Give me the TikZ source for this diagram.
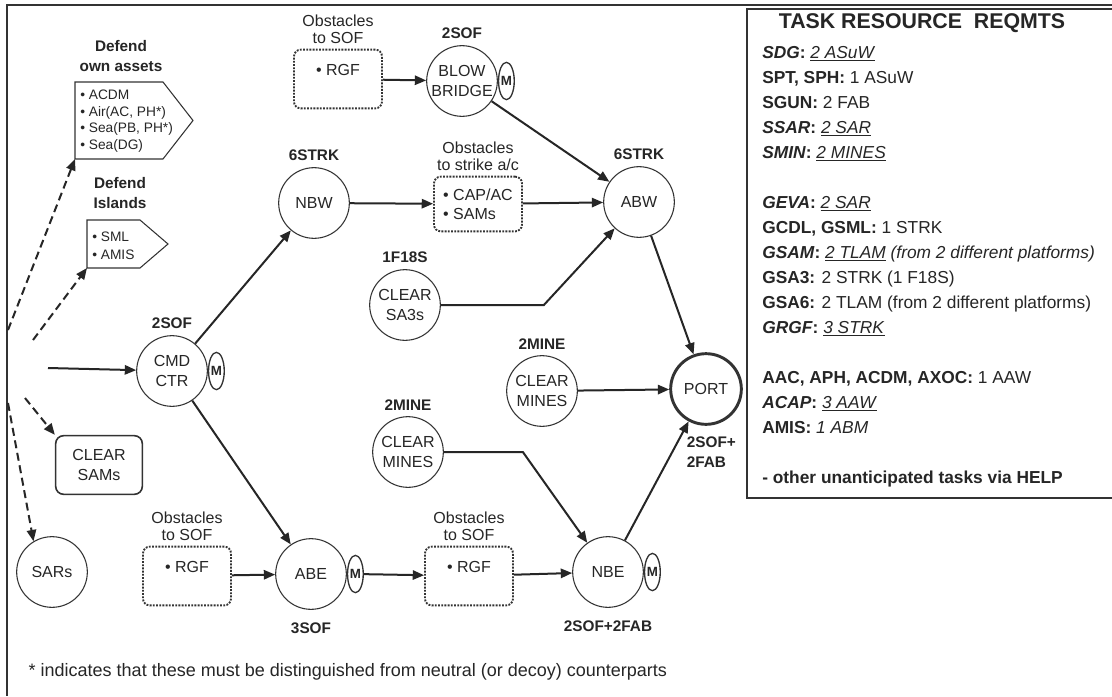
\documentclass[tikz,border=0pt]{standalone}
\usepackage{fontspec}
\setmainfont{Liberation Sans}
\usetikzlibrary{positioning,calc,shapes.geometric,arrows.meta}

\tikzset{
  task/.style={circle, draw=black!80, line width=0.8pt, minimum size=53pt, inner sep=0pt, align=center, font=\fontsize{12}{15}\selectfont},
  mtag/.style={ellipse, draw=black!80, line width=1pt, minimum width=11pt, minimum height=28pt, inner sep=0pt, font=\fontsize{10}{10}\bfseries\selectfont},
  need/.style={font=\fontsize{11.5}{15}\bfseries\selectfont, align=center},
  obst/.style={draw=black!80, densely dotted, line width=1.4pt, rounded corners=5pt, minimum width=66pt, minimum height=44pt, align=left, font=\fontsize{12}{14}\selectfont},
  obstlbl/.style={align=center, font=\fontsize{12}{13}\selectfont},
  defl/.style={align=left, inner sep=0pt, font=\fontsize{10.3}{12.5}\selectfont},
  pen/.style={draw=black!80, line width=0.8pt},
  flow/.style={->, line width=1.5pt, draw=black!85},
  maybe/.style={->, line width=1.5pt, draw=black!85, dash pattern=on 6pt off 3.5pt},
}

\begin{document}
\begin{tikzpicture}[x=0.75pt,y=-0.75pt,>={Triangle[length=8.5pt,width=7pt]},text=black!85]
\useasboundingbox[fill=white] (0,0) rectangle (1112,696);
\draw[line width=1.5pt, black!80] (1112,5) -- (7,5) -- (7,696);

% defend boxes
\node[need] (ownlbl) at (121,56) {Defend\\own assets};
\node[defl, anchor=west] (own) at (80,121) {\textbullet\ ACDM\\\textbullet\ Air(AC, PH*)\\\textbullet\ Sea(PB, PH*)\\\textbullet\ Sea(DG)};
\draw[pen] (75,82) -- (163,82) -- (193,120.5) -- (163,159) -- (75,159) coordinate (ownSW) -- cycle;
\node[need] (isllbl) at (120,193) {Defend\\Islands};
\node[defl, anchor=west, font=\fontsize{10.3}{13.5}\selectfont] (isl) at (92,246) {\textbullet\ SML\\\textbullet\ AMIS};
\draw[pen] (87,220) -- (140,220) -- (168,244) -- (140,268) -- (87,268) coordinate (islSW) -- cycle;

\coordinate (src1) at (8,330);
\coordinate (src2) at (33,340);
\coordinate (src3) at (25,398);
\coordinate (src4) at (8,403);
\coordinate (src5) at (48,368);

\node[task] (cmd) at (172,371) {CMD\\CTR};
\node[mtag, right=0pt of cmd] (cmdM) {M};
\node[need, above=1pt of cmd] (cmdneed) {2SOF};

\node[draw=black!80, line width=1.2pt, rounded corners=6pt, minimum width=65pt, minimum height=44pt, align=center, font=\fontsize{12}{15}\selectfont] (sams) at (99,465) {CLEAR\\SAMs};
\node[task] (sars) at (52,572) {SARs};

\node[obst] (rgfA) at (187,576) {\textbullet\ RGF\\\mbox{}};
\node[obstlbl, above=0pt of rgfA] (rgfAlbl) {Obstacles\\to SOF};

\node[task] (abe) at (311,574) {ABE};
\node[mtag, right=0pt of abe] (abeM) {M};
\node[need, below=6pt of abe] (abeneed) {3SOF};

\node[obst] (rgfB) at (469,576) {\textbullet\ RGF\\\mbox{}};
\node[obstlbl, above=0pt of rgfB] (rgfBlbl) {Obstacles\\to SOF};

\node[task] (nbe) at (608,572) {NBE};
\node[mtag, right=0pt of nbe] (nbeM) {M};
\node[need, below=6pt of nbe] (nbeneed) {2SOF+2FAB};

\node[task] (minesL) at (408,452) {CLEAR\\MINES};
\node[need, above=1pt of minesL] (minesLneed) {2MINE};
\node[task] (minesU) at (542,391) {CLEAR\\MINES};
\node[need, above=1pt of minesU] (minesUneed) {2MINE};

\node[task, line width=2.2pt] (port) at (706,389) {PORT};
\node[need, align=left, below=5pt of port, xshift=4pt] (portneed) {2SOF+\\2FAB};

\node[task] (sa3) at (405,305) {CLEAR\\SA3s};
\node[need, above=1pt of sa3] (sa3need) {1F18S};

\node[task] (abw) at (639,202) {ABW};
\node[need, above=1pt of abw] (abwneed) {6STRK};
\node[task] (nbw) at (314,203) {NBW};
\node[need, above=1pt of nbw] (nbwneed) {6STRK};

\node[obst, minimum height=41pt] (cap) at (478,204) {\textbullet\ CAP/AC\\\textbullet\ SAMs};
\node[obstlbl, above=0pt of cap] (caplbl) {Obstacles\\to strike a/c};

\node[obst] (rgfC) at (338,79) {\textbullet\ RGF\\\mbox{}};
\node[obstlbl, above=0pt of rgfC] (rgfClbl) {Obstacles\\to SOF};

\node[task] (blow) at (462,81) {BLOW\\BRIDGE};
\node[mtag, right=0pt of blow] (blowM) {M};
\node[need, above=1pt of blow] (blowneed) {2SOF};

\draw[maybe] (src1) -- (ownSW);
\draw[maybe] (src2) -- (islSW);
\draw[maybe] (src3) -- (sams.north west);
\draw[maybe] (src4) -- (sars.121);
\draw[flow] (src5) -- (cmd);

\draw[flow] (cmd) -- (nbw);
\draw[flow] (cmd) -- (abe);
\draw[flow] (rgfA) -- (abe);
\draw[flow] (abeM) -- (rgfB);
\draw[flow] (rgfB) -- (nbe);
\draw[flow] (nbe) -- (port);
\draw[flow] (minesL.east) -- ++(79,0) -- (nbe);
\draw[flow] (minesU) -- (port);
\draw[flow] (abw) -- (port);
\draw[flow] (sa3.east) -- ++(103,0) -- (abw);
\draw[flow] (nbw) -- (cap);
\draw[flow] (cap) -- (abw);
\draw[flow] (rgfC) -- (blow);
\draw[flow] (blow) -- (abw);

% requirements panel
\draw[line width=1pt, black!80] (747,9) rectangle (1118,498);
\node[font=\fontsize{16}{16}\bfseries\selectfont] (reqtitle) at (922,23) {TASK RESOURCE\ \ REQMTS};
\node[anchor=north west, align=left, inner sep=0pt, font=\fontsize{13}{18.75}\selectfont] (reqmts) at (762,46) {%
\textbf{\textit{SDG}:} \underline{\textit{2 ASuW}}\\
\textbf{SPT, SPH:} 1 ASuW\\
\textbf{SGUN:} 2 FAB\\
\textbf{\textit{SSAR}:} \underline{\textit{2 SAR}}\\
\textbf{\textit{SMIN}:} \underline{\textit{2 MINES}}\\
\mbox{}\\
\textbf{\textit{GEVA}:} \underline{\textit{2 SAR}}\\
\textbf{GCDL, GSML:} 1 STRK\\
\textbf{\textit{GSAM}:} \underline{\textit{2 TLAM}} \textit{(from 2 different platforms)}\\
\textbf{GSA3:} 2 STRK (1 F18S)\\
\textbf{GSA6:} 2 TLAM (from 2 different platforms)\\
\textbf{\textit{GRGF}:} \underline{\textit{3 STRK}}\\
\mbox{}\\
\textbf{AAC, APH, ACDM, AXOC:} 1 AAW\\
\textbf{\textit{ACAP}:} \underline{\textit{3 AAW}}\\
\textbf{AMIS:} \textit{1 ABM}\\
\mbox{}\\
\textbf{- other unanticipated tasks via HELP}};

\node[anchor=west, font=\fontsize{13.5}{15}\selectfont] (note) at (24,672) {* indicates that these must be distinguished from neutral (or decoy) counterparts};
\end{tikzpicture}
\end{document}
